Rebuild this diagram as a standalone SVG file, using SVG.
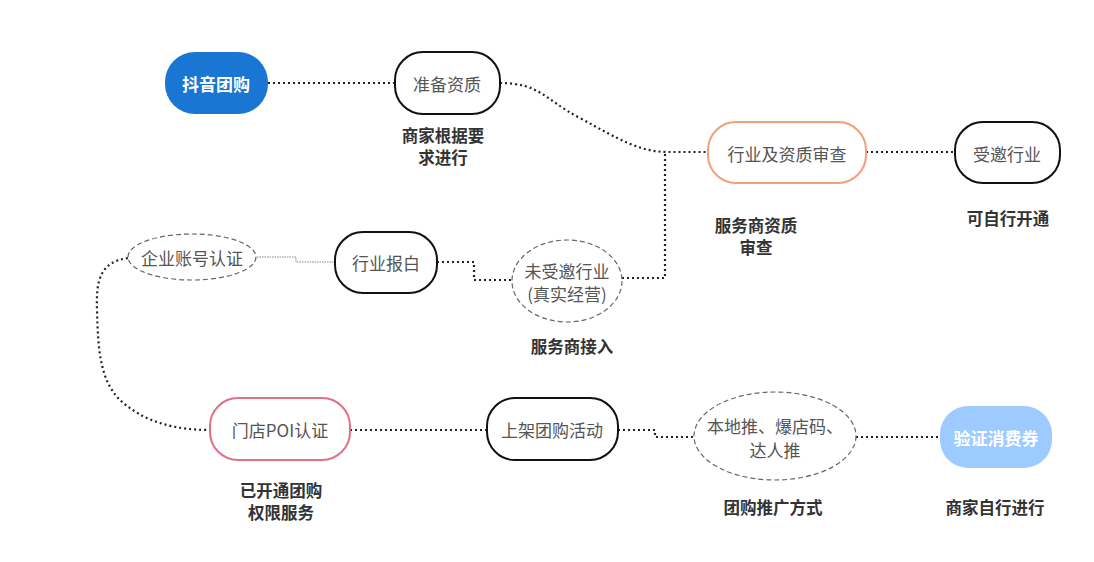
<svg xmlns="http://www.w3.org/2000/svg" width="1094" height="562" viewBox="0 0 1094 562">
<style>
text{font-family:"Noto Sans CJK SC","Liberation Sans",sans-serif;text-anchor:middle;dominant-baseline:central}
.t{font-size:17px;fill:#555}
.w{font-size:17px;fill:#fff;font-weight:bold}
.lb{font-size:16.5px;fill:#333;font-weight:bold}
.box{fill:#fff;stroke:#111;stroke-width:2}
.el{fill:#fff;stroke:#666;stroke-width:1.2;stroke-dasharray:5 3}
.c{fill:none;stroke:#222;stroke-width:2.2;stroke-dasharray:2 3}
.thin{fill:none;stroke:#888;stroke-width:1;stroke-dasharray:1.5 1}
</style>
<rect width="1094" height="562" fill="#fff"/>
<g id="connectors">
<path class="c" d="M268,83 H395"/>
<path class="c" d="M500,83 C540,83 545,100 580,118 C620,140 640,152 668,152 H708"/>
<path class="c" d="M866,152 H955"/>
<path class="c" d="M665,154 V278 H622"/>
<path class="c" d="M437,262 H474 V280 H513"/>
<path class="thin" d="M257,257 H296 V262 H335"/>
<path class="c" d="M128,258 C100,262 96,280 97,310 C98,350 100,380 120,400 C150,428 190,430 210,430"/>
<path class="c" d="M350,430 H487"/>
<path class="c" d="M618,430 H655 V437 H694"/>
<path class="c" d="M856,437 H940"/>
</g>
<g id="n1"><rect x="165" y="52" width="103" height="62" rx="30" fill="#1976D2"/><text class="w" x="216" y="83">抖音团购</text></g>
<g id="n2"><rect class="box" x="395" y="52" width="105" height="62" rx="28"/><text class="t" x="447" y="83">准备资质</text></g>
<g id="l2"><text class="lb" x="443" y="135">商家根据要</text><text class="lb" x="443" y="157">求进行</text></g>
<g id="n3"><rect x="708" y="122" width="158" height="61" rx="28" fill="#fff" stroke="#F0A07A" stroke-width="2"/><text class="t" x="787" y="153">行业及资质审查</text></g>
<g id="l3"><text class="lb" x="756" y="225">服务商资质</text><text class="lb" x="756" y="247">审查</text></g>
<g id="n4"><rect class="box" x="955" y="122" width="105" height="61" rx="28"/><text class="t" x="1007" y="153">受邀行业</text></g>
<g id="l4"><text class="lb" x="1008" y="218">可自行开通</text></g>
<g id="n5"><ellipse class="el" cx="567" cy="281" rx="55" ry="41"/><text class="t" x="567" y="270">未受邀行业</text><text class="t" x="567" y="293">(真实经营)</text></g>
<g id="l5"><text class="lb" x="572" y="346">服务商接入</text></g>
<g id="n6"><rect class="box" x="335" y="232" width="102" height="61" rx="28"/><text class="t" x="386" y="262">行业报白</text></g>
<g id="n7"><ellipse class="el" cx="192" cy="257" rx="64" ry="23"/><text class="t" x="192" y="257">企业账号认证</text></g>
<g id="n8"><rect x="210" y="398" width="140" height="62" rx="28" fill="#fff" stroke="#E07088" stroke-width="2"/><text class="t" x="280" y="429">门店POI认证</text></g>
<g id="l8"><text class="lb" x="281" y="490">已开通团购</text><text class="lb" x="281" y="512">权限服务</text></g>
<g id="n9"><rect class="box" x="487" y="398" width="131" height="62" rx="28"/><text class="t" x="552" y="429">上架团购活动</text></g>
<g id="n10"><ellipse class="el" cx="775" cy="436" rx="81" ry="44"/><text class="t" x="775" y="425">本地推、爆店码、</text><text class="t" x="775" y="449">达人推</text></g>
<g id="l10"><text class="lb" x="773" y="507">团购推广方式</text></g>
<g id="n11"><rect x="940" y="406" width="112" height="62" rx="28" fill="#9ECBFF"/><text class="w" x="996" y="437">验证消费券</text></g>
<g id="l11"><text class="lb" x="995" y="507">商家自行进行</text></g>
</svg>
